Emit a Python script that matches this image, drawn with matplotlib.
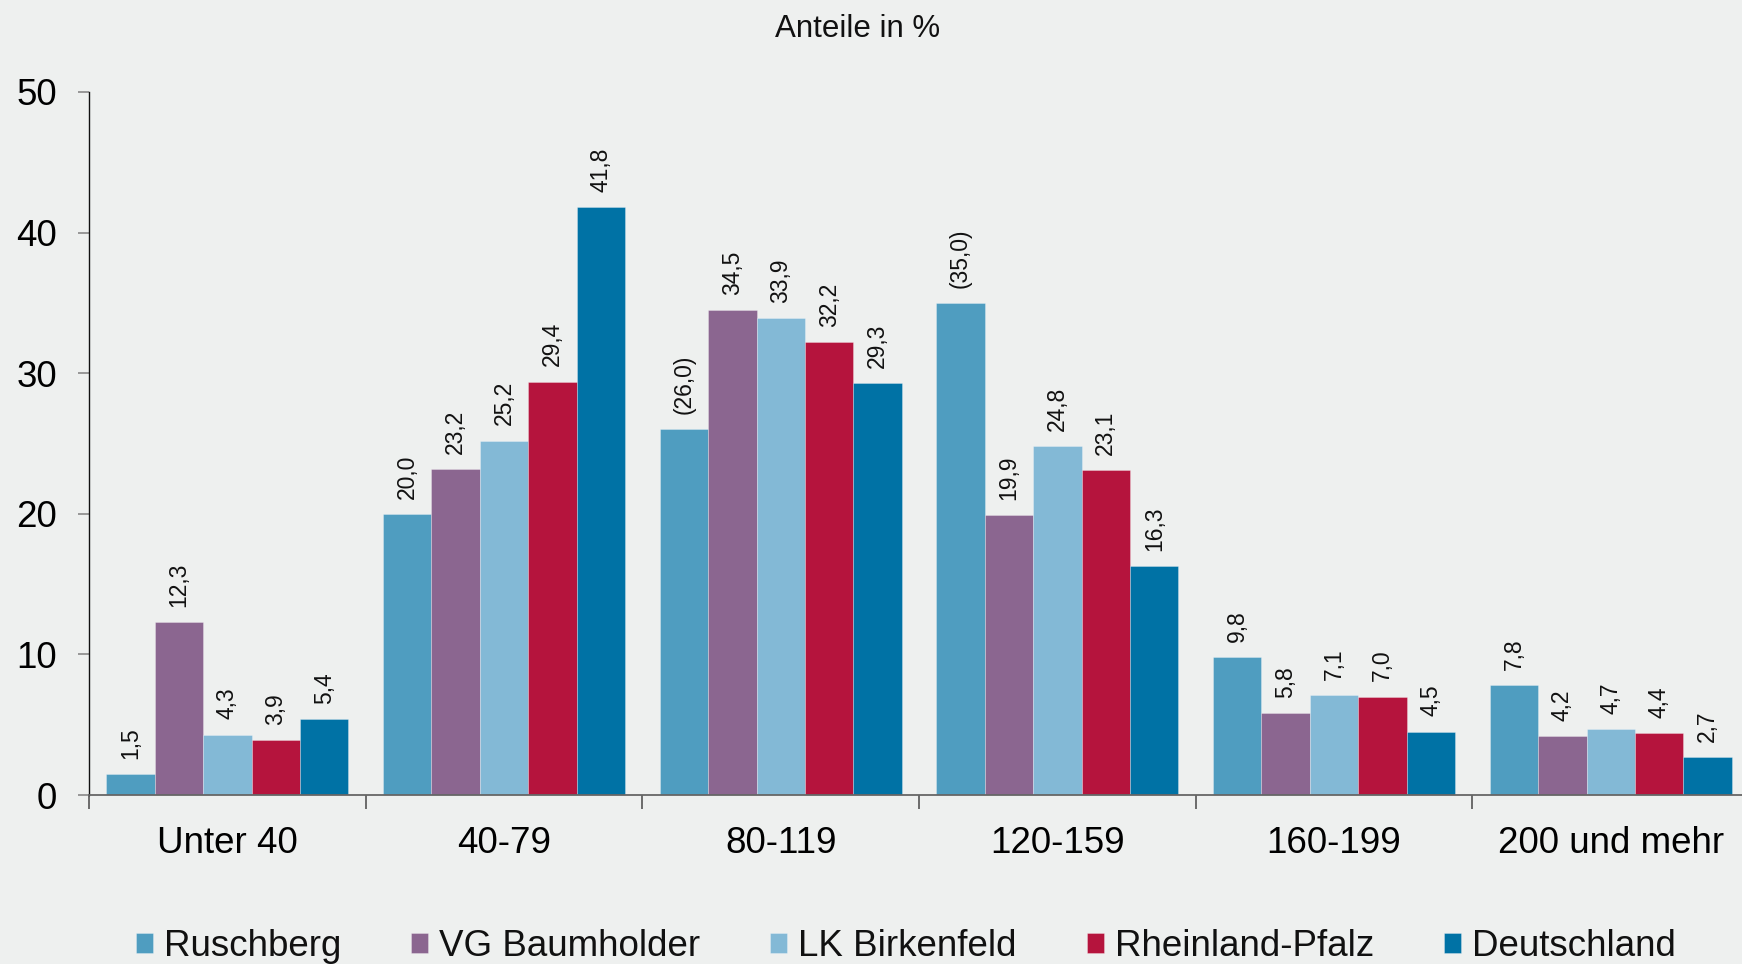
import numpy as np
import matplotlib
matplotlib.use('Agg')
import matplotlib.pyplot as plt

BG = '#eef0ef'
plt.rcParams.update({
    'font.family': ['Liberation Sans', 'DejaVu Sans'],
    'figure.facecolor': BG, 'axes.facecolor': BG, 'savefig.facecolor': BG,
    'text.color': '#111111',
})

categories = ['Unter 40', '40-79', '80-119', '120-159', '160-199', '200 und mehr']
series = ['Ruschberg', 'VG Baumholder', 'LK Birkenfeld', 'Rheinland-Pfalz', 'Deutschland']
colors = ['#4f9dc0', '#8b6690', '#83b9d6', '#b5143d', '#0072a5']

ruschberg = [1.5, 20.0, 26.0, 35.0, 9.8, 7.8]
vg_baumholder = [12.3, 23.2, 34.5, 19.9, 5.8, 4.2]
lk_birkenfeld = [4.3, 25.2, 33.9, 24.8, 7.1, 4.7]
rheinland_pfalz = [3.9, 29.4, 32.2, 23.1, 7.0, 4.4]
deutschland = [5.4, 41.8, 29.3, 16.3, 4.5, 2.7]
# values shown in brackets (small case numbers)
bracketed = [[False, False, True, True, False, False]] + [[False] * 6] * 4

values = [ruschberg, vg_baumholder, lk_birkenfeld, rheinland_pfalz, deutschland]

fig = plt.figure(figsize=(17.42, 9.64), dpi=100)
ax = fig.add_axes([0.0511, 0.1753, 0.953, 0.7293])

x = np.arange(len(categories))
bw = 0.175
for i, (name, vals, col) in enumerate(zip(series, values, colors)):
    pos = x + (i - 2) * bw
    bars = ax.bar(pos, vals, width=bw, color=col, label=name,
                  edgecolor='#ffffff55', linewidth=0.6)
    for b, v, br in zip(bars, vals, bracketed[i]):
        s = f'{v:.1f}'.replace('.', ',')
        if br:
            s = f'({s})'
        ax.annotate(s, (b.get_x() + b.get_width() / 2, v), xytext=(0, 11),
                    textcoords='offset points', rotation=90, ha='center',
                    va='bottom', fontsize=16.5)

ax.set_xlim(-0.5, len(categories) - 0.5)
ax.set_ylim(0, 50)
ax.set_yticks([0, 10, 20, 30, 40, 50])
ax.tick_params(axis='y', length=8, width=1.2, color='#888888', pad=15, labelsize=26.5)
ax.set_xticks(x)
ax.set_xticklabels(categories)
ax.tick_params(axis='x', which='major', length=0, pad=22, labelsize=26.5)
ax.set_xticks(np.arange(len(categories) + 1) - 0.5, minor=True)
ax.tick_params(axis='x', which='minor', length=10, width=1.2, color='#555555')

for s in ['top', 'right']:
    ax.spines[s].set_visible(False)
ax.spines['left'].set_color('#111111')
ax.spines['left'].set_linewidth(1.0)
ax.spines['bottom'].set_color('#666666')
ax.spines['bottom'].set_linewidth(1.3)

fig.text(0.4925, 0.970, 'Anteile in %', ha='center', va='center', fontsize=22.5)

fig.legend(loc='center', bbox_to_anchor=(0.52, 0.018), ncol=5, frameon=False,
           fontsize=26.5, handlelength=0.46, handleheight=0.46,
           handletextpad=0.3, columnspacing=1.9, borderpad=0, borderaxespad=0)

fig.savefig('out.png', dpi=100)
